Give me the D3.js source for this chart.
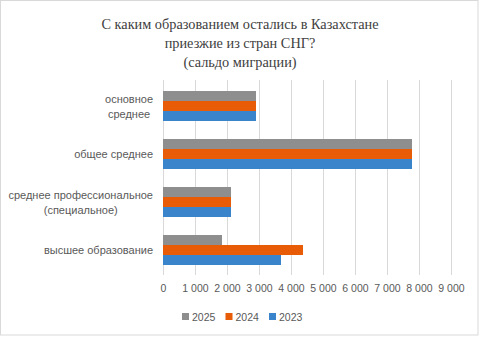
<!DOCTYPE html>
<html>
<head>
<meta charset="utf-8">
<script src="https://cdn.jsdelivr.net/npm/d3@7"></script>
<style>
  html, body { margin: 0; padding: 0; background: #fff; }
  svg { display: block; }
</style>
</head>
<body>
<svg id="chart" width="480" height="344"></svg>
<script>
// Education level categories (top to bottom), each label split into lines
const categories = ["основное среднее", "общее среднее", "среднее профессиональное (специальное)", "высшее образование"];
const categoryLines = [["основное", "среднее"], ["общее среднее"], ["среднее профессиональное", "(специальное)"], ["высшее образование"]];
// Series, drawn top-to-bottom inside each group
const seriesNames = ["2025", "2024", "2023"];
const values2025 = [2900, 7780, 2120, 1840];
const values2024 = [2900, 7780, 2120, 4370];
const values2023 = [2900, 7780, 2120, 3690];
const seriesColors = ["#8e8e8e", "#e85b07", "#3a84cc"];
const tickValues = [0, 1000, 2000, 3000, 4000, 5000, 6000, 7000, 8000, 9000];
const titleLines = ["С каким образованием остались в Казахстане", "приезжие из стран СНГ?", "(сальдо миграции)"];

const seriesValues = [values2025, values2024, values2023];
const svg = d3.select("#chart");
const textColor = "#595959";
const sansFont = "'Liberation Sans', Arial, sans-serif";

// Chart border
svg.append("rect")
  .attr("x", 0.5).attr("y", 0.5)
  .attr("width", 477.5).attr("height", 334.5)
  .attr("fill", "#fff").attr("stroke", "#d9d9d9");

// Title
svg.append("g").selectAll("text").data(titleLines).join("text")
  .attr("x", 240)
  .attr("y", (d, i) => 29 + i * 18.8)
  .attr("text-anchor", "middle")
  .attr("font-family", "'Liberation Serif', 'Times New Roman', serif")
  .attr("font-size", 14.3)
  .attr("fill", "#404040")
  .text(d => d);

const x = d3.scaleLinear().domain([0, 9000]).range([163, 451]);
const y = d3.scaleBand().domain(categories).range([82, 274])
  .paddingInner(0.375).paddingOuter(0.1875);
const ySub = d3.scaleBand().domain(seriesNames).range([0, y.bandwidth()]);

// Vertical gridlines and value labels
const xAxis = d3.axisBottom(x).tickValues(tickValues).tickSize(-195)
  .tickFormat(d => d3.format(",")(d).replace(/,/g, "\u00a0"));
const gx = svg.append("g").attr("transform", "translate(0,275)").call(xAxis);
gx.select(".domain").remove();
gx.selectAll(".tick line").attr("stroke", "#d9d9d9").attr("shape-rendering", "crispEdges");
gx.selectAll(".tick text")
  .attr("y", 10)
  .attr("font-family", sansFont)
  .attr("font-size", 10.5)
  .attr("fill", textColor);

// Bars
const groups = svg.append("g").selectAll("g").data(categories).join("g")
  .attr("transform", d => `translate(0,${y(d)})`);
groups.selectAll("rect")
  .data((c, ci) => seriesNames.map((s, si) => ({ s, v: seriesValues[si][ci], color: seriesColors[si] })))
  .join("rect")
  .attr("x", x(0))
  .attr("y", d => ySub(d.s))
  .attr("width", d => x(d.v) - x(0))
  .attr("height", ySub.bandwidth())
  .attr("fill", d => d.color)
  .attr("shape-rendering", "crispEdges");

// Category labels: lines centered within a block whose right edge meets the plot
const labelRight = 153;
svg.append("g").selectAll("text").data(categories).join("text")
  .attr("font-family", sansFont)
  .attr("font-size", 11)
  .attr("fill", textColor)
  .attr("text-anchor", "middle")
  .each(function (c, i) {
    const lines = categoryLines[i];
    const cy = y(c) + y.bandwidth() / 2;
    const lh = 15;
    const t = d3.select(this);
    const spans = t.selectAll("tspan").data(lines).join("tspan")
      .attr("y", (d, j) => cy + 4 + (j - (lines.length - 1) / 2) * lh)
      .text(d => d);
    let maxW = 0;
    spans.each(function () { maxW = Math.max(maxW, this.getComputedTextLength()); });
    spans.attr("x", labelRight - maxW / 2);
  });

// Legend
const legend = svg.append("g").selectAll("g").data(seriesNames).join("g")
  .attr("transform", (d, i) => `translate(${182 + i * 43.5},313)`);
legend.append("rect")
  .attr("width", 7).attr("height", 7)
  .attr("fill", (d, i) => seriesColors[i]);
legend.append("text")
  .attr("x", 10).attr("y", 7.5)
  .attr("font-family", sansFont)
  .attr("font-size", 10.5)
  .attr("fill", textColor)
  .text(d => d);
</script>
</body>
</html>
